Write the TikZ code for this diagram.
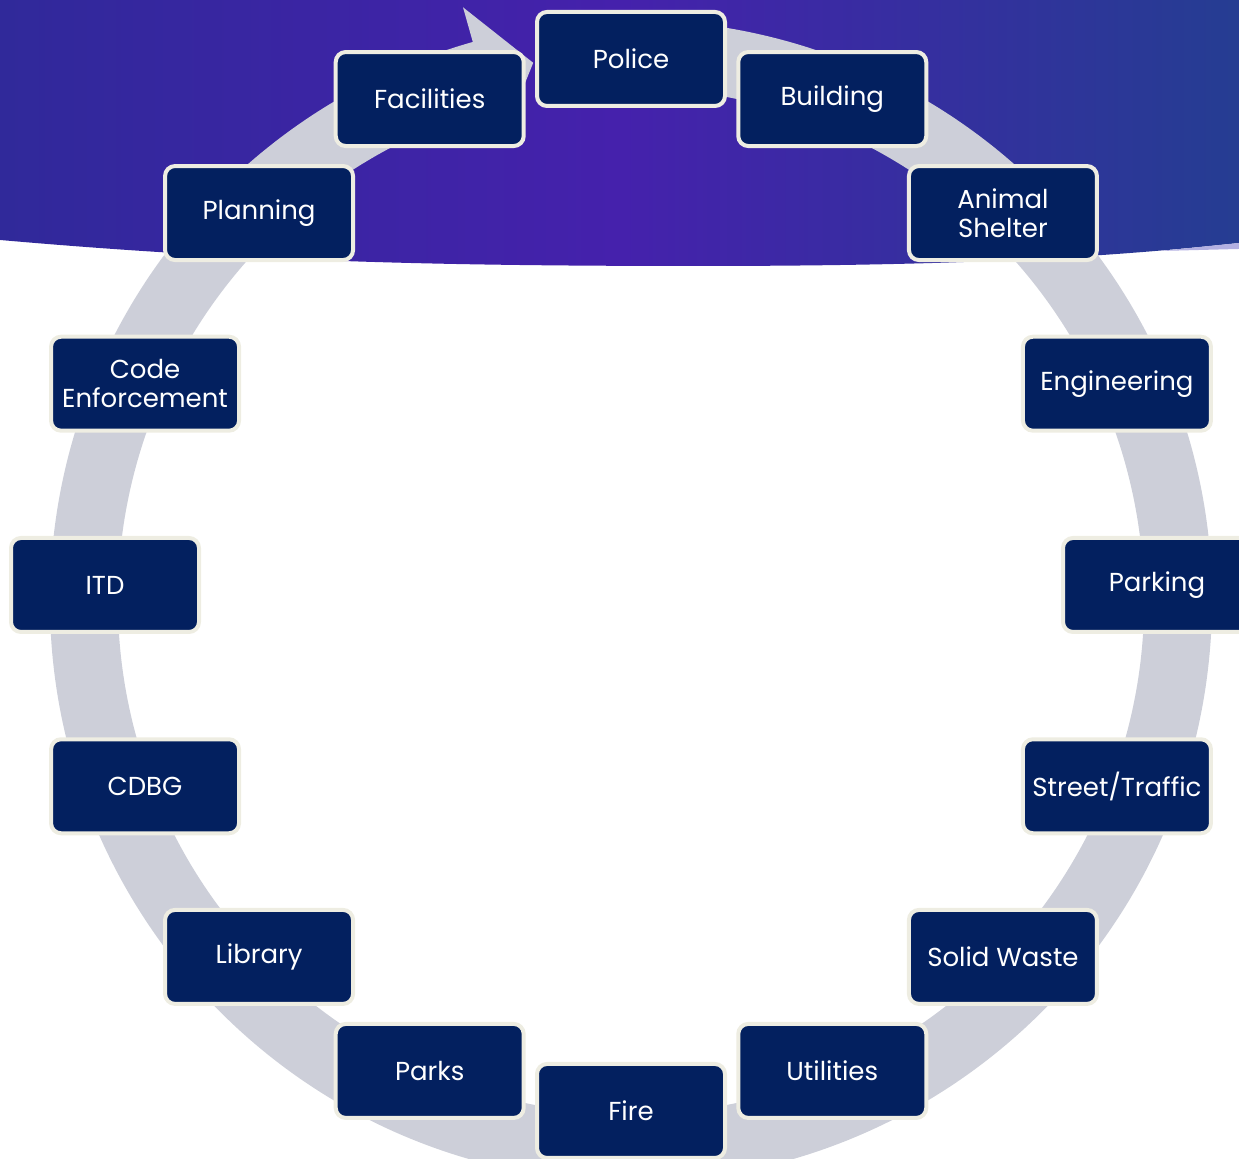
\documentclass[tikz,border=0pt]{standalone}
\usepackage{fontspec}
\setmainfont{Poppins}
\usetikzlibrary{calc,positioning}

\definecolor{navy}{HTML}{03205F}
\definecolor{cream}{HTML}{EEEDE2}
\definecolor{ringgrey}{HTML}{CDCFD9}
\definecolor{bandleft}{HTML}{30299A}
\definecolor{bandmid}{HTML}{4521AC}
\definecolor{bandright}{HTML}{253D92}
\definecolor{bandedge}{HTML}{B3B0E2}

\tikzset{
  dept/.style={draw=cream, line width=2pt, fill=navy, text=white,
    rounded corners=5pt, minimum width=94pt, minimum height=47pt,
    inner sep=0pt, align=center, font=\fontsize{13}{14.5}\selectfont},
}

\begin{document}
\begin{tikzpicture}[x=0.5pt,y=0.5pt]
\useasboundingbox (0,0) rectangle (1239,1159);
\clip (0,0) rectangle (1239,1159);
\coordinate (c) at (631,574);
\coordinate (rc) at (631,558);
% banner
\shade[left color=bandleft, right color=bandright, middle color=bandmid]
  (0,1159) -- (0,919) .. controls (250,897) and (450,893) .. (700,893)
  .. controls (950,893) and (1100,901) .. (1239,916) -- (1239,1159) -- cycle;
\fill[bandedge] (1160,908) -- (1239,916) -- (1239,910) -- cycle;
% ring with arrow head
\fill[ringgrey] ($(rc)+(84:581)$) arc[start angle=84, end angle=-254.2, radius=581]
  -- ($(rc)+(-254.2:617)$) -- ($(rc)+(-259.7:547)$) -- ($(rc)+(-254.2:477)$)
  -- ($(rc)+(-254.2:513)$) arc[start angle=-254.2, end angle=84, radius=513] -- cycle;
% departments
\foreach \name/\ang/\txt in {police/90/Police, building/67.5/Building,
    shelter/45/{Animal\\Shelter}, engineering/22.5/Engineering,
    parking/0/Parking, street/-22.5/{Street/Traffic}, waste/-45/Solid Waste,
    utilities/-67.5/Utilities, fire/-90/Fire, parks/-112.5/Parks,
    library/-135/Library, cdbg/-157.5/CDBG, itd/180/ITD,
    code/157.5/{Code\\Enforcement}, planning/135/Planning,
    facilities/112.5/Facilities}
  \node[dept] (\name) at ($(c)+(\ang:526)$) {\txt};
\end{tikzpicture}
\end{document}
